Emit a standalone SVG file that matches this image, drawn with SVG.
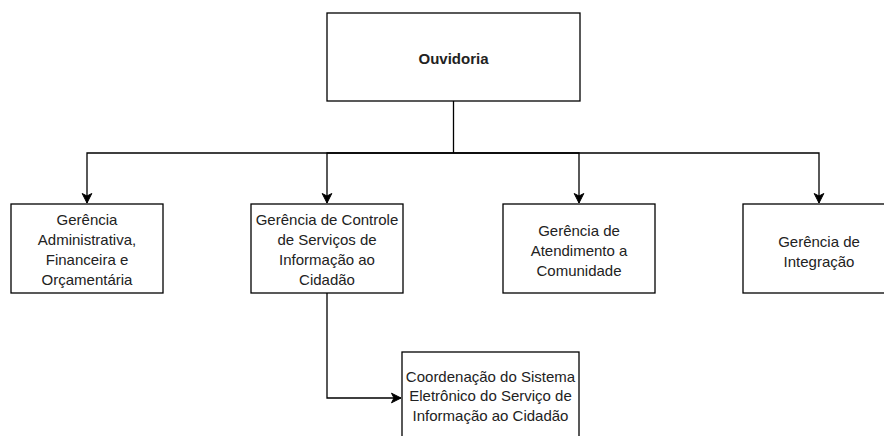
<svg xmlns="http://www.w3.org/2000/svg" width="884" height="436" viewBox="0 0 884 436">
<style>
.box{fill:#fff;stroke:#000;stroke-width:1.3}
.lbl{font-family:"Liberation Sans",Arial,sans-serif;font-size:15px;fill:#222;text-anchor:middle}
.title{font-weight:bold}
.edge{fill:none;stroke:#000;stroke-width:1.3}
</style>
<defs>
<marker id="arr" markerUnits="userSpaceOnUse" markerWidth="12" markerHeight="12" viewBox="-10 -6 12 12" refX="0" refY="0" orient="auto">
<path d="M0 0 L-9.5 -4.8 L-7 0 L-9.5 4.8 Z" fill="#000" stroke="#000" stroke-width="1"/>
</marker>
</defs>
<rect width="884" height="436" fill="#fff"/>
<g id="connectors">
<path class="edge" d="M453.5 101 V153 H87 V203" marker-end="url(#arr)"/>
<path class="edge" d="M453.5 153 H327 V203" marker-end="url(#arr)"/>
<path class="edge" d="M453.5 153 H579 V203" marker-end="url(#arr)"/>
<path class="edge" d="M453.5 153 H819 V203" marker-end="url(#arr)"/>
<path class="edge" d="M327 293 V398 H401" marker-end="url(#arr)"/>
</g>
<g id="ouvidoria">
<rect class="box" x="327" y="13" width="253" height="88"/>
<text class="lbl title" x="453.5" y="63.5">Ouvidoria</text>
</g>
<g id="ger-adm">
<rect class="box" x="11" y="204" width="152" height="89"/>
<text class="lbl" x="87"><tspan x="87" y="224.5">Gerência</tspan><tspan x="87" y="244.5">Administrativa,</tspan><tspan x="87" y="264.5">Financeira e</tspan><tspan x="87" y="284.5">Orçamentária</tspan></text>
</g>
<g id="ger-controle">
<rect class="box" x="251" y="204" width="152" height="89"/>
<text class="lbl" x="327"><tspan x="327" y="224.5">Gerência de Controle</tspan><tspan x="327" y="244.5">de Serviços de</tspan><tspan x="327" y="264.5">Informação ao</tspan><tspan x="327" y="284.5">Cidadão</tspan></text>
</g>
<g id="ger-atendimento">
<rect class="box" x="503" y="204" width="152" height="89"/>
<text class="lbl" x="579"><tspan x="579" y="236">Gerência de</tspan><tspan x="579" y="256">Atendimento a</tspan><tspan x="579" y="276">Comunidade</tspan></text>
</g>
<g id="ger-integracao">
<rect class="box" x="743" y="204" width="152" height="89"/>
<text class="lbl" x="819"><tspan x="819" y="247">Gerência de</tspan><tspan x="819" y="267">Integração</tspan></text>
</g>
<g id="coord-sistema">
<rect class="box" x="402" y="352" width="177" height="100"/>
<text class="lbl" x="490.5"><tspan x="490.5" y="381.5">Coordenação do Sistema</tspan><tspan x="490.5" y="401">Eletrônico do Serviço de</tspan><tspan x="490.5" y="420.5">Informação ao Cidadão</tspan></text>
</g>
</svg>
